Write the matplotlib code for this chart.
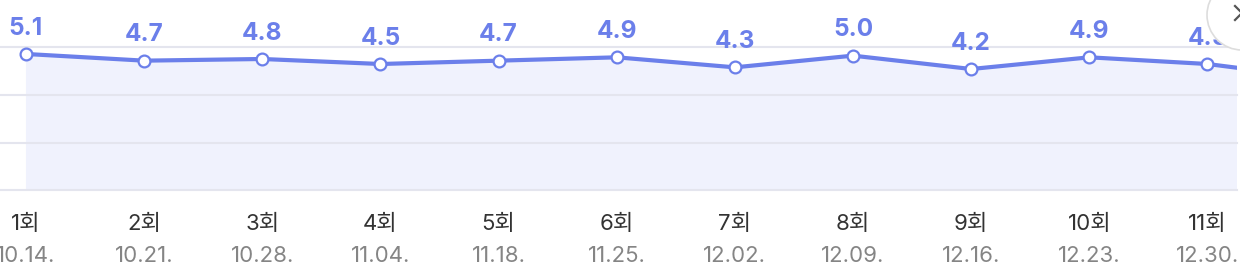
import matplotlib.pyplot as plt
from matplotlib.patches import Ellipse
from matplotlib.lines import Line2D
import matplotlib.transforms as mtransforms

plt.rcParams['font.family'] = ['Inter', 'Noto Sans CJK KR', 'DejaVu Sans']

# --- data ---
rounds = ['1회', '2회', '3회', '4회', '5회', '6회', '7회', '8회', '9회', '10회', '11회', '12회']
dates = ['10.14.', '10.21.', '10.28.', '11.04.', '11.18.', '11.25.',
         '12.02.', '12.09.', '12.16.', '12.23.', '12.30.', '01.06.']
values = [5.1, 4.7, 4.8, 4.5, 4.7, 4.9, 4.3, 5.0, 4.2, 4.9, 4.5, 3.6]

LINE = '#6B7FEA'
FILL = '#F0F2FD'
GRID = '#E4E5EE'

W, H = 1240, 276
fig = plt.figure(figsize=(W / 100, H / 100), dpi=100)
ax = fig.add_axes([0, 1 - 190 / H, 1237 / W, 190 / H])

x = list(range(len(values)))
ax.set_xlim(-0.22, 10.25)
ax.set_ylim(-3.04, 8.33)

for g in [5.52, 2.65, -0.23, -3.04]:
    ax.axhline(g, color=GRID, lw=1.5, zorder=2, clip_on=False)

ax.fill_between(x, values, -3.04, color=FILL, zorder=1, lw=0)
ax.plot(x, values, color=LINE, lw=3, zorder=3,
        marker='o', markersize=8.5, markerfacecolor='white',
        markeredgecolor=LINE, markeredgewidth=1.6)

for xi, v in zip(x, values):
    ax.annotate(f'{v:.1f}', (xi, v), xytext=(0, 18.5), textcoords='offset points',
                ha='center', va='center', fontsize=17.5, fontweight='bold',
                color=LINE, annotation_clip=True)

trans = mtransforms.blended_transform_factory(ax.transData, ax.transAxes)
for xi, r, d in zip(x, rounds, dates):
    if xi > 10.8:
        continue
    ax.text(xi, -0.18, r, transform=trans, ha='center', va='center',
            fontsize=16, color='#333333')
    ax.text(xi, -0.345, d, transform=trans, ha='center', va='center',
            fontsize=16, color='#858585')

for s in ax.spines.values():
    s.set_visible(False)
ax.set_xticks([])
ax.set_yticks([])
ax.patch.set_alpha(0)

# close button in the top-right corner
circ = Ellipse((1242 / W, 1 - 15 / H), 70 / W, 70 / H, transform=fig.transFigure,
               facecolor='white', edgecolor='#DDDDDD', lw=1.2, zorder=10)
fig.patches.append(circ)
for (x0, y0, x1, y1) in [(1235, 6, 1249, 20), (1235, 20, 1249, 6)]:
    fig.lines.append(Line2D([x0 / W, x1 / W], [1 - y0 / H, 1 - y1 / H],
                            transform=fig.transFigure, color='#555555',
                            lw=1.6, zorder=11))

fig.savefig('out.png', dpi=100)
